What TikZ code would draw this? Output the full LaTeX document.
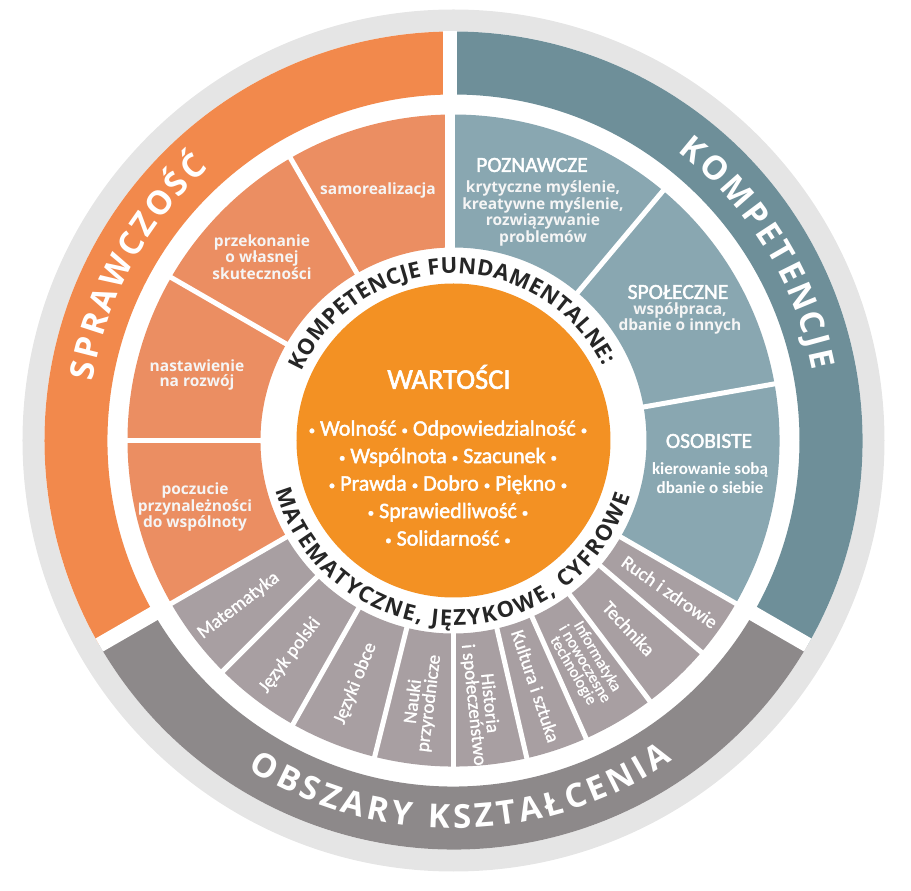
\documentclass[tikz,border=0pt]{standalone}
\usepackage{fontspec}
\usepackage{tikz}
\usetikzlibrary{decorations.text}

\newfontfamily\opensans{Open Sans}
\newfontfamily\calib{Carlito}[FakeBold=1.2]
\newfontfamily\calibsemi{Carlito}[FakeBold=2]
\newfontfamily\calibplain{Carlito}
\newcommand\vdot{\raisebox{1pt}{\fontsize{13}{13}\selectfont•}}

\definecolor{sprawOuter}{RGB}{242,137,76}
\definecolor{sprawInner}{RGB}{235,142,98}
\definecolor{kompOuter}{RGB}{110,143,153}
\definecolor{kompInner}{RGB}{137,167,177}
\definecolor{obszOuter}{RGB}{141,137,138}
\definecolor{obszInner}{RGB}{168,159,162}
\definecolor{valueCore}{RGB}{243,145,35}
\definecolor{rimGrey}{RGB}{229,229,229}

\begin{document}
\begin{tikzpicture}[x=1pt, y=1pt]
        \tikzset{
            sector label/.style={
                    font=\opensans\bfseries\fontsize{15.5}{15}\selectfont, text=white!96!black, align=center, inner sep=0pt
                },
            head label/.style={
                    font=\calibsemi\fontsize{21.5}{22}\selectfont, text=white, inner sep=0pt
                },
            own label/.style={
                    font=\calibplain\bfseries\fontsize{17}{19.5}\selectfont, text=white, align=center, inner sep=0pt
                },
            subject label/.style={
                    font=\calib\fontsize{19}{16}\selectfont, text=white, align=center, inner sep=0pt
                },
            value title/.style={
                    font=\calibsemi\fontsize{28.5}{30}\selectfont, text=white, inner sep=0pt
                },
            value text/.style={
                    font=\calibsemi\fontsize{22}{27.5}\selectfont, text=white, align=center, inner sep=0pt
                },
            gap/.style={draw=white, line width=#1},
            band text/.style={
                    decorate, decoration={text along path, text color=white, text align=fit to path,
                            text={|\opensans\bfseries\fontsize{33}{33}\selectfont|#1}}
                },
            ring text/.style={
                    decorate, decoration={text along path, text color=black!85, text align=fit to path,
                            text={|\opensans\bfseries\fontsize{22}{22}\selectfont|#1}}
                }
        }

        \useasboundingbox (-453.5, -450.5) rectangle (457.5, 440.5);

        \fill[rimGrey] (0, 0) circle (431);
        \fill[white] (0, 0) circle (409);

        \foreach \s/\e/\c in {90/210/sprawOuter, 210/330/obszOuter, -30/90/kompOuter}
            \fill[\c] (\s:409) arc[start angle=\s, end angle=\e, radius=409] -- (\e:346)
                arc[start angle=\e, end angle=\s, radius=346] -- cycle;

        \foreach \s/\e/\c in {90/210/sprawInner, 210/330/obszInner, -30/90/kompInner}
            \fill[\c] (\s:326) arc[start angle=\s, end angle=\e, radius=326] -- (\e:193)
                arc[start angle=\e, end angle=\s, radius=193] -- cycle;

        \foreach \a in {120, 150, 180, 210, 225, 240.5, 256, 270, 283, 294, 307, 319.5, 330, 10, 50}
            \draw[gap=5] (\a:188) -- (\a:330);
        \foreach \a in {210, 330}
            \draw[gap=15] (\a:340) -- (\a:409);
        \draw[gap=10] (-3.5, 188) -- (-3.5, 330);
        \draw[gap=14] (-3.5, 340) -- (-3.5, 409);

        \fill[valueCore] (0, 0) circle (157);

        \path[band text=SPRAWCZOŚĆ] (170.7:366) arc[start angle=170.7, end angle=132, radius=366];
        \path[band text=KOMPETENCJE] (52.2:366) arc[start angle=52.2, end angle=11.1, radius=366];
        \path[band text=OBSZARY KSZTAŁCENIA] (238:388) arc[start angle=238, end angle=304.4, radius=388];
        \path[ring text=KOMPETENCJE FUNDAMENTALNE:] (155.6:167) arc[start angle=155.6, end angle=26.3, radius=167];
        \path[ring text={MATEMATYCZNE, JĘZYKOWE, CYFROWE}] (195.6:185) arc[start angle=195.6, end angle=342.6, radius=185];

        \node[sector label] (samo) at (-75.5, 250.5) {samorealizacja};
        \node[sector label] (przek) at (-191.5, 183.5) {przekonanie\\o własnej\\skuteczności};
        \node[sector label] (nastaw) at (-256.5, 65.5) {nastawienie\\na rozwój};
        \node[sector label] (poczucie) at (-258.5, -66.5) {poczucie\\przynależności\\do wspólnoty};

        \node[head label] (pozn) at (78.5, 275.5) {POZNAWCZE};
        \node[sector label] (poznTxt) at (89.5, 227) {krytyczne myślenie,\\kreatywne myślenie,\\rozwiązywanie\\problemów};
        \node[head label] (spol) at (224.5, 148.5) {SPOŁECZNE};
        \node[sector label] (spolTxt) at (226.5, 122) {współpraca,\\dbanie o innych};
        \node[head label] (osob) at (255.5, -0.5) {OSOBISTE};
        \node[own label] (osobTxt) at (256.5, -37.5) {kierowanie sobą\\dbanie o siebie};

        \foreach \a/\r/\t [count=\i] in {217.5/271/Matematyka, 232.7/270/Język polski, 248/262/Języki obce,
                263/264/Nauki\\przyrodnicze}
            \node[subject label, rotate=\a-180] (subjL\i) at (\a:\r) {\t};
        \foreach \a/\r/\t [count=\i] in {276/265/Historia\\i społeczeństwo, 288.5/259/Kultura i sztuka,
                313/257/Technika, 325/264/Ruch i zdrowie}
            \node[subject label, rotate=\a-360] (subjR\i) at (\a:\r) {\t};
        \node[subject label, font=\calib\fontsize{16}{13.5}\selectfont, rotate=-59.5] (infa) at (300.5:259) {Informatyka\\i nowoczesne\\technologie};

        \node[value title] (wart) at (-4.5, 63.5) {WARTOŚCI};
        \node[value text] (vals) at (-5.5, -42.5) {\vdot\ Wolność \vdot\ Odpowiedzialność \vdot\\\vdot\ Wspólnota \vdot\ Szacunek \vdot\\\vdot\ Prawda \vdot\ Dobro \vdot\ Piękno \vdot\\\vdot\ Sprawiedliwość \vdot\\\vdot\ Solidarność \vdot};
    \end{tikzpicture}
\end{document}
